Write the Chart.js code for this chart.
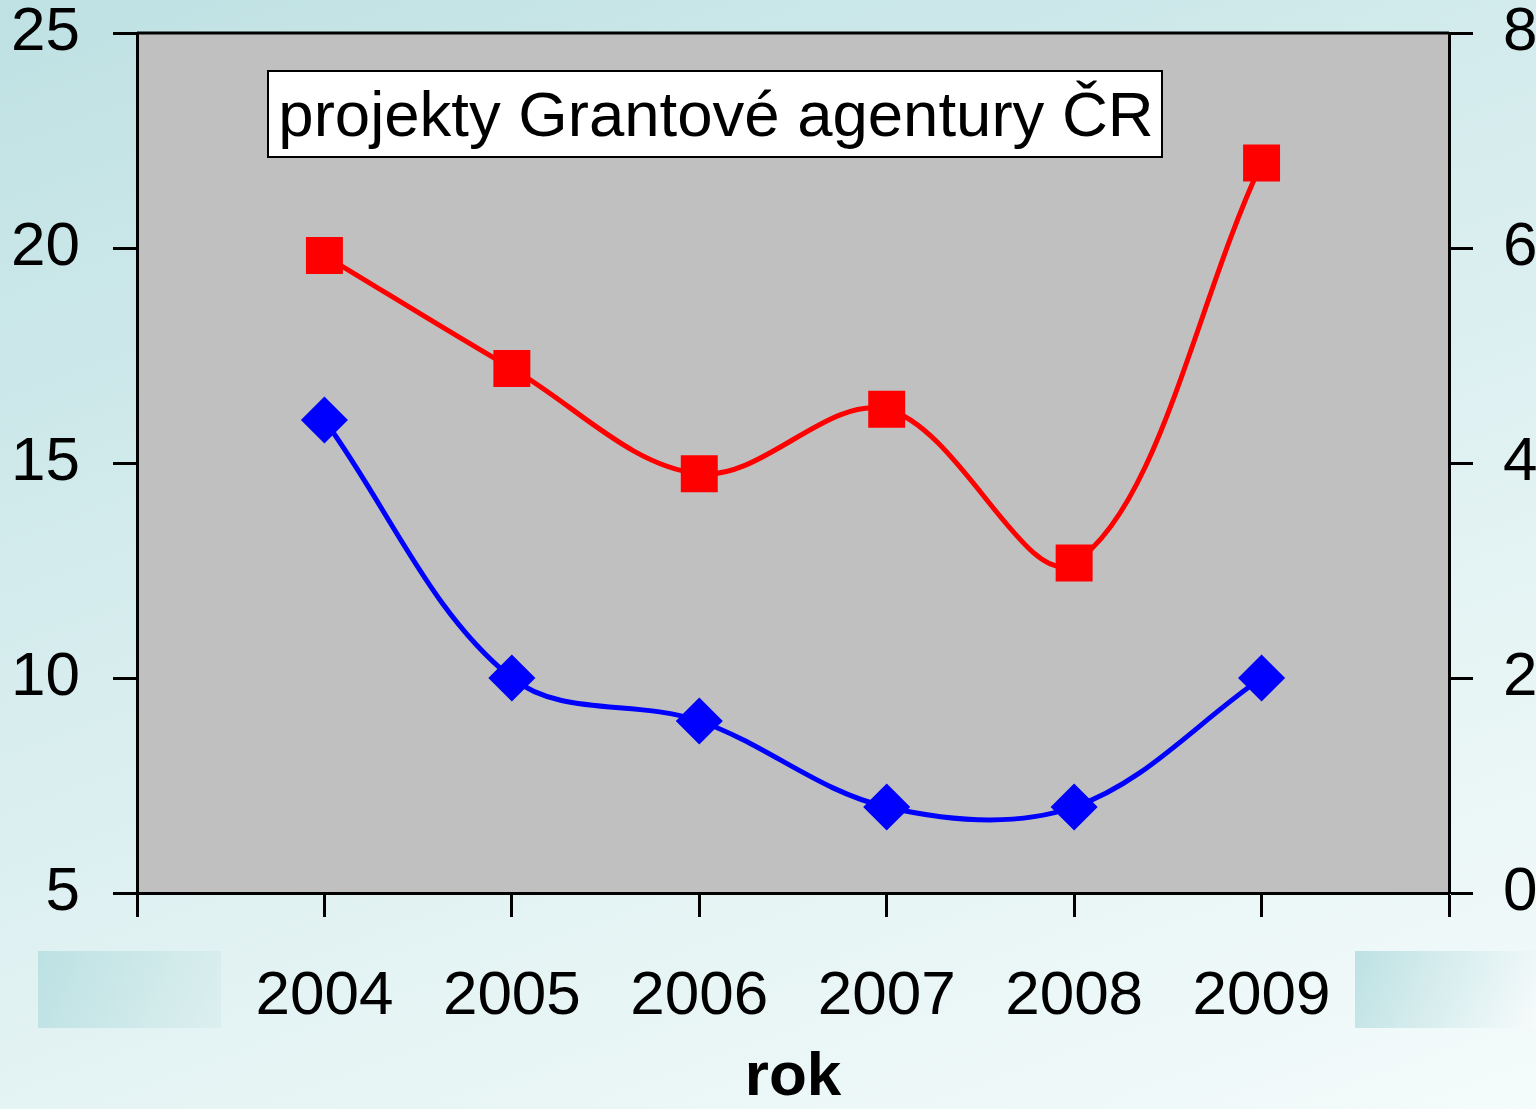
<!DOCTYPE html>
<html>
<head>
<meta charset="utf-8">
<script src="https://cdn.jsdelivr.net/npm/chart.js@4"></script>
<style>
  html, body { margin: 0; padding: 0; }
  body {
    width: 1536px; height: 1109px; overflow: hidden;
    background: linear-gradient(160deg, #bfe1e3 0%, #d3ebed 35%, #e6f4f4 70%, #f4fbfb 100%);
  }
  #wrap { position: relative; width: 1536px; height: 1109px; }
</style>
</head>
<body>
<div id="wrap"><canvas id="myChart" width="1536" height="1109"></canvas></div>
<script>
  // data
  const years = ["2004", "2005", "2006", "2007", "2008", "2009"];
  const blueValues = [16, 10, 9, 7, 7, 10];          // left axis
  const redValues = [5.93, 4.88, 3.9, 4.5, 3.07, 6.79]; // right axis
  const boxTitle = "projekty Grantové agentury ČR";
  const axisTitle = "rok";

  const FONT = "'Liberation Sans', Arial, sans-serif";

  // background decorations, plot fill and the title box
  const decor = {
    id: "decor",
    beforeDraw(chart) {
      const ctx = chart.ctx;
      const a = chart.chartArea;
      ctx.save();
      let g = ctx.createLinearGradient(38, 951, 221, 1028);
      g.addColorStop(0, "#bde1e3");
      g.addColorStop(1, "#dcefef");
      ctx.fillStyle = g;
      ctx.fillRect(38, 951, 183, 77);
      g = ctx.createLinearGradient(1355, 951, 1536, 1028);
      g.addColorStop(0, "#bde1e3");
      g.addColorStop(1, "#f6fbfb");
      ctx.fillStyle = g;
      ctx.fillRect(1355, 951, 181, 77);
      ctx.fillStyle = "#c0c0c0";
      ctx.fillRect(a.left, a.top, a.right - a.left, a.bottom - a.top);
      ctx.restore();
    },
    afterDraw(chart) {
      const ctx = chart.ctx;
      const a = chart.chartArea;
      ctx.save();
      ctx.strokeStyle = "#000";
      ctx.lineWidth = 3;
      ctx.beginPath();
      ctx.moveTo(a.left, a.top);
      ctx.lineTo(a.right, a.top);
      ctx.stroke();
      // title box
      ctx.fillStyle = "#fff";
      ctx.fillRect(268, 71, 894, 86);
      ctx.lineWidth = 2;
      ctx.strokeRect(268, 71, 894, 86);
      ctx.fillStyle = "#000";
      ctx.font = "63.5px " + FONT;
      ctx.textAlign = "center";
      ctx.textBaseline = "middle";
      ctx.fillText(boxTitle, 716, 118);
      ctx.restore();
    }
  };

  const tickFont = { family: FONT, size: 62, lineHeight: 1 };

  const createChart = () => {
    const ctx = document.getElementById("myChart").getContext("2d");

    const data = {
      datasets: [
        {
          label: "blue",
          data: blueValues.map((v, i) => ({ x: i + 1, y: v })),
          yAxisID: "y",
          borderColor: "#0000ff",
          backgroundColor: "#0000ff",
          borderWidth: 5,
          pointStyle: "rectRot",
          pointRadius: 20,
          pointHoverRadius: 20,
          tension: 0.35,
          fill: false,
        },
        {
          label: "red",
          data: redValues.map((v, i) => ({ x: i + 1, y: v })),
          yAxisID: "y1",
          borderColor: "#ff0000",
          backgroundColor: "#ff0000",
          borderWidth: 5,
          pointStyle: "rect",
          pointRadius: 22.6,
          pointHoverRadius: 22.6,
          tension: 0.35,
          fill: false,
        },
      ],
    };

    const axisGrid = {
      drawOnChartArea: false,
      drawTicks: true,
      tickLength: 24,
      tickWidth: 3,
      tickColor: "#000",
    };
    const axisBorder = { display: true, color: "#000", width: 3 };

    const fitSide = (w) => (s) => {
      s.width = w;
      s.paddingTop = 0;
      s.paddingBottom = 0;
    };

    const config = {
      type: "line",
      data: data,
      options: {
        responsive: false,
        animation: false,
        events: [],
        layout: { padding: { top: 33, left: 0, right: 0, bottom: 0 } },
        plugins: { legend: { display: false }, tooltip: { enabled: false } },
        scales: {
          x: {
            type: "linear",
            position: "bottom",
            min: 0,
            max: 7,
            ticks: {
              stepSize: 1,
              autoSkip: false,
              maxRotation: 0,
              font: tickFont,
              color: "#000",
              padding: 49,
              callback: (v) => years[v - 1] || "",
            },
            grid: axisGrid,
            border: axisBorder,
            title: {
              display: true,
              text: axisTitle,
              color: "#000",
              font: { family: FONT, size: 62, weight: "bold", lineHeight: 1 },
              padding: { top: 20, bottom: 0 },
            },
            afterFit: (s) => {
              s.height = 216;
              s.paddingLeft = 0;
              s.paddingRight = 0;
            },
          },
          y: {
            position: "left",
            min: 5,
            max: 25,
            ticks: { stepSize: 5, font: tickFont, color: "#000", padding: 33 },
            grid: axisGrid,
            border: axisBorder,
            afterFit: fitSide(137),
          },
          y1: {
            position: "right",
            min: 0,
            max: 8,
            ticks: { stepSize: 2, font: tickFont, color: "#000", padding: 30 },
            grid: axisGrid,
            border: axisBorder,
            afterFit: fitSide(87),
          },
        },
      },
      plugins: [decor],
    };

    new Chart(ctx, config);
  };

  document.addEventListener("DOMContentLoaded", createChart);
</script>
</body>
</html>
